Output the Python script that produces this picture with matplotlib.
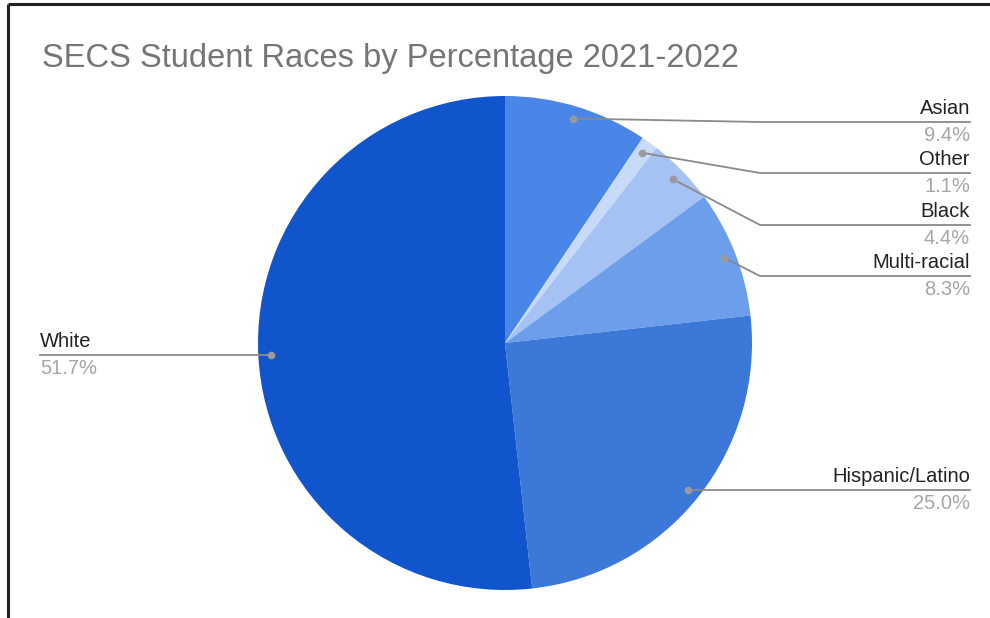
import numpy as np
import matplotlib
matplotlib.use('Agg')
import matplotlib.pyplot as plt

plt.rcParams['font.family'] = ['Liberation Sans', 'DejaVu Sans']

TITLE = 'SECS Student Races by Percentage 2021-2022'
CATEGORIES = ['Asian', 'Other', 'Black', 'Multi-racial', 'Hispanic/Latino', 'White']
PERCENTS = [9.4, 1.1, 4.4, 8.3, 25.0, 51.7]
COLORS = ['#4a86e8', '#c9daf8', '#a4c2f4', '#6d9eeb', '#3c78d8', '#1155cc']

W, H = 990, 618
CX, CY, R = 505, 343, 247


def py(y):
    # image pixel row -> data y
    return H - y


fig = plt.figure(figsize=(W / 100, H / 100), dpi=100)
ax = fig.add_axes([0, 0, 1, 1])

wedges, _ = ax.pie(
    PERCENTS,
    colors=COLORS,
    startangle=90,
    counterclock=False,
    center=(CX, py(CY)),
    radius=R,
    wedgeprops={'linewidth': 0},
)

ax.set_xlim(0, W)
ax.set_ylim(0, H)
ax.set_aspect('equal')
ax.axis('off')

# frame lines of the screenshot
ax.plot([8, W], [py(4), py(4)], color='#222222', lw=2.2, solid_capstyle='butt')
ax.plot([8, 8], [py(4), 0], color='#222222', lw=2.2, solid_capstyle='butt')

ax.text(42, py(58), TITLE, fontsize=23.5, color='#757575', va='center', ha='left')

# leader layout: (elbow x, line y, text x, side)
layout = {
    'Asian': (760, 122, 970, 'right'),
    'Other': (760, 173, 970, 'right'),
    'Black': (760, 225, 970, 'right'),
    'Multi-racial': (760, 276, 970, 'right'),
    'Hispanic/Latino': (None, 490, 970, 'right'),
    'White': (None, 355, 40, 'left'),
}

total = sum(PERCENTS)
cum = 0.0
for name, pct in zip(CATEGORIES, PERCENTS):
    mid = cum + pct / 2
    cum += pct
    ang = np.deg2rad(90 - mid / total * 360)
    dx = CX + 0.95 * R * np.cos(ang)
    dy = CY - 0.95 * R * np.sin(ang)
    ex, ly, tx, side = layout[name]
    if ex is None:
        xs = [dx, tx]
        ys = [py(ly), py(ly)]
    else:
        xs = [dx, ex, tx]
        ys = [py(dy), py(ly), py(ly)]
    ax.plot(xs, ys, color='#8a8a8a', lw=1.3, zorder=3)
    ax.plot([dx], [py(dy) if ex is not None else py(ly)], 'o', color='#9a9a9a',
            markersize=4.5, zorder=4)
    ha = 'right' if side == 'right' else 'left'
    ax.text(tx, py(ly - 4), name, fontsize=14.5, color='#222222', ha=ha, va='bottom')
    ax.text(tx, py(ly + 4), f'{pct:.1f}%', fontsize=14.5, color='#a6a6a6', ha=ha, va='top')

fig.savefig('out.png', dpi=100)
